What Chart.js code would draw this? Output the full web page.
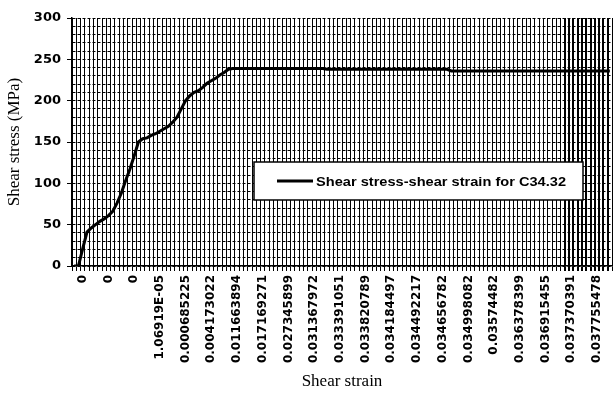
<!DOCTYPE html>
<html>
<head>
<meta charset="utf-8">
<script src="https://cdn.jsdelivr.net/npm/chart.js@4/dist/chart.umd.min.js"></script>
<style>
    html, body { margin: 0; padding: 0; background: #fff; }
    #wrap { width: 615px; height: 394px; }
</style>
</head>
<body>
<div id="wrap"><canvas id="stressChart" width="615" height="394"></canvas></div>
<script>
/* eslint-env browser */
// strain labels Excel printed on the axis (every 6th category)
const strainTickLabels = [
    '0', '0', '0', '1.06919E-05', '0.000685225', '0.004173022', '0.011663894',
    '0.017169271', '0.027345899', '0.031367972', '0.033391051', '0.033820789',
    '0.034184497', '0.034492217', '0.034656782', '0.034998082', '0.03574482',
    '0.036378399', '0.036915455', '0.037370391', '0.037755478'
];
const labelStart = 2;
const labelEvery = 6;

// shear stress (MPa), one value per category
const shearStress = [
    0, 0, 21, 41, 46, 50, 54, 57, 61, 66,
    76, 88, 103, 117, 133, 150, 154, 155, 158, 160,
    163, 166, 169, 174, 180, 190, 200, 206, 210, 212,
    216, 221, 224, 227, 231, 234, 238, 239, 239, 239,
    239, 239, 239, 239, 239, 239, 239, 239, 239, 239,
    239, 239, 239, 239, 239, 239, 239, 239, 239, 238,
    238, 238, 238, 238, 238, 238, 238, 238, 238, 238,
    238, 238, 238, 238, 238, 238, 238, 238, 238, 238,
    238, 238, 238, 238, 238, 238, 238, 238, 236, 236,
    236, 236, 236, 236, 236, 236, 236, 236, 236, 236,
    236, 236, 236, 236, 236, 236, 236, 236, 236, 236,
    236, 236, 236, 236, 236, 236, 236, 236, 236, 236,
    236, 236, 236, 236, 236, 236
];

const seriesName = 'Shear stress-shear strain for C34.32';
const yTicks = { min: 0, max: 300, minor: 10, major: 50 };

(() => {
    'use strict';

    const categories = shearStress.map((_, i) => {
        const k = (i - labelStart) / labelEvery;
        return Number.isInteger(k) && k >= 0 && k < strainTickLabels.length ? strainTickLabels[k] : '';
    });

    // legend drawn as a framed box inside the plot, like the Excel original
    const boxedLegend = {
        id: 'boxedLegend',
        afterDraw(chart, args, opts) {
            const ctx = chart.ctx;
            const ds = chart.data.datasets[0];
            ctx.save();
            ctx.fillStyle = '#fff';
            ctx.fillRect(opts.left, opts.top, opts.width, opts.height);
            ctx.strokeStyle = '#000';
            ctx.lineWidth = 1.5;
            ctx.strokeRect(opts.left, opts.top, opts.width, opts.height);
            const midY = opts.top + opts.height / 2;
            ctx.beginPath();
            ctx.lineWidth = ds.borderWidth;
            ctx.moveTo(opts.left + 23, midY);
            ctx.lineTo(opts.left + 59, midY);
            ctx.stroke();
            ctx.font = opts.font;
            ctx.fillStyle = '#000';
            ctx.textBaseline = 'middle';
            const textX = opts.left + 62;
            const w = ctx.measureText(ds.label).width;
            const sx = opts.textWidth / w;
            ctx.translate(textX, midY + 1);
            ctx.scale(sx, 1);
            ctx.fillText(ds.label, 0, 0);
            ctx.restore();
        }
    };

    document.addEventListener('DOMContentLoaded', function () {
        const ctx = document.getElementById('stressChart').getContext('2d');
        new Chart(ctx, {
            type: 'line',
            data: {
                labels: categories,
                datasets: [{
                    label: seriesName,
                    data: shearStress,
                    borderColor: '#000',
                    borderWidth: 3,
                    pointRadius: 0,
                    tension: 0,
                    fill: false
                }]
            },
            options: {
                responsive: false,
                animation: false,
                layout: { padding: { top: 18, right: 3, left: 0, bottom: 0 } },
                plugins: {
                    legend: { display: false },
                    tooltip: { enabled: false },
                    boxedLegend: {
                        left: 254, top: 162, width: 329, height: 38,
                        font: 'bold 13px "Liberation Sans", Arial, sans-serif',
                        textWidth: 250
                    }
                },
                scales: {
                    x: {
                        type: 'category',
                        offset: true,
                        afterFit: (scale) => {
                            scale.height = 128;
                            scale.paddingLeft = 0;
                            scale.paddingRight = 0;
                        },
                        grid: {
                            offset: true,
                            color: '#000',
                            lineWidth: (c) => (c.index >= 115 ? 2 : 1),
                            tickLength: 5,
                            tickColor: '#000'
                        },
                        border: { display: true, color: '#000', width: 1.5 },
                        ticks: {
                            autoSkip: false,
                            maxRotation: 90,
                            minRotation: 90,
                            padding: 4,
                            color: '#000',
                            font: { family: '"DejaVu Sans", Verdana, sans-serif', size: 12, weight: 'bold' }
                        },
                        title: {
                            display: true,
                            text: 'Shear strain',
                            color: '#000',
                            padding: { top: 0, bottom: 2 },
                            font: { family: '"Liberation Serif", "Times New Roman", serif', size: 17 }
                        }
                    },
                    y: {
                        min: yTicks.min,
                        max: yTicks.max,
                        afterFit: (scale) => {
                            scale.width = 72;
                            scale.paddingTop = 0;
                            scale.paddingBottom = 0;
                        },
                        grid: {
                            color: '#000',
                            lineWidth: 1,
                            tickLength: 5,
                            tickColor: (c) => (c.tick && c.tick.value % yTicks.major === 0 ? '#000' : 'rgba(0,0,0,0)')
                        },
                        border: { display: true, color: '#000', width: 1.5, dash: [3, 2] },
                        ticks: {
                            autoSkip: false,
                            stepSize: yTicks.minor,
                            padding: 6,
                            color: '#000',
                            font: { family: '"DejaVu Sans", Verdana, sans-serif', size: 13, weight: 'bold' },
                            callback: (v) => (v % yTicks.major === 0 ? v : '')
                        },
                        title: {
                            display: true,
                            text: 'Shear stress (MPa)',
                            color: '#000',
                            padding: { top: 4, bottom: 0 },
                            font: { family: '"Liberation Serif", "Times New Roman", serif', size: 17 }
                        }
                    }
                }
            },
            plugins: [boxedLegend]
        });
    });
})();
</script>
</body>
</html>
